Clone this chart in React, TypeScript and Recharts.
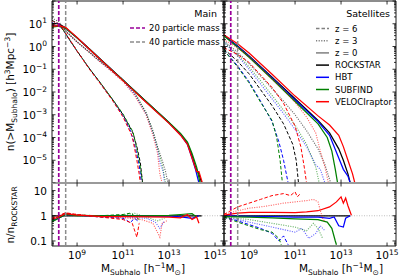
import React from 'react';
import { LineChart, Line, XAxis, YAxis, ReferenceLine, ReferenceArea } from 'recharts';

type Curve = [number, number][]; // [log10 M, log10 value]

// ---------- Main haloes: cumulative n(>M) ----------
const mainZ0Rockstar: Curve = [[7.9, 1.02], [8.2, 1.0], [8.5, 0.82], [9, 0.38], [9.5, -0.08], [10, -0.55], [11, -1.48], [12, -2.42], [13, -3.35], [13.5, -3.85], [13.8, -4.25], [14.0, -4.8], [14.15, -5.3], [14.3, -5.6], [14.42, -6]];
const mainZ0Hbt: Curve = [[7.9, 0.9], [8.2, 0.92], [8.5, 0.8], [9, 0.39], [9.5, -0.08], [10, -0.55], [11, -1.48], [12, -2.43], [13, -3.35], [13.5, -3.87], [13.8, -4.3], [14.0, -4.9], [14.15, -5.4], [14.3, -6]];
const mainZ0Subfind: Curve = [[7.9, 0.85], [8.2, 0.9], [8.5, 0.8], [9, 0.38], [9.5, -0.08], [10, -0.55], [11, -1.48], [12, -2.42], [13, -3.34], [13.5, -3.82], [13.8, -4.2], [14.0, -4.7], [14.2, -5.3], [14.35, -6]];
const mainZ0Velo: Curve = [[7.9, 0.88], [8.2, 0.92], [8.5, 0.84], [9, 0.4], [9.5, -0.09], [10, -0.56], [11, -1.5], [12, -2.45], [13, -3.38], [13.5, -3.9], [13.8, -4.3], [14.0, -4.9], [14.2, -5.5], [14.3, -5.5], [14.45, -6]];

const mainZ3Rockstar: Curve = [[7.9, 1.25], [8.2, 1.1], [8.56, 0.62], [9, 0.2], [9.5, -0.22], [10, -0.65], [10.5, -1.05], [11, -1.47], [11.5, -2.05], [12, -2.9], [12.3, -3.7], [12.5, -4.4], [12.7, -5.0], [12.85, -5.5], [12.95, -6]];
const mainZ3Hbt: Curve = [[7.9, 1.05], [8.2, 1.0], [8.56, 0.62], [9, 0.2], [9.5, -0.22], [10, -0.66], [10.5, -1.06], [11, -1.5], [11.5, -2.1], [12, -2.95], [12.3, -3.8], [12.5, -4.5], [12.6, -5.1], [12.75, -5.5], [12.8, -6]];
const mainZ3Subfind: Curve = [[7.9, 1.0], [8.2, 0.98], [8.56, 0.62], [9, 0.2], [9.5, -0.22], [10, -0.65], [10.5, -1.05], [11, -1.46], [11.5, -2.0], [12, -2.92], [12.3, -3.75], [12.5, -4.45], [12.7, -5.2], [12.85, -6]];
const mainZ3Velo: Curve = [[7.9, 1.1], [8.2, 1.02], [8.56, 0.64], [9, 0.21], [9.5, -0.23], [10, -0.68], [10.5, -1.1], [11, -1.55], [11.5, -2.15], [12, -3.0], [12.3, -3.9], [12.5, -4.7], [12.6, -5.6], [12.7, -6]];

const mainZ6Rockstar: Curve = [[7.9, 1.15], [8.2, 1.0], [8.4, 0.72], [8.7, 0.25], [9, -0.2], [9.56, -1.0], [10, -1.58], [10.56, -2.35], [11, -3.0], [11.43, -3.8], [11.6, -4.4], [11.75, -5.1], [11.85, -6]];
const mainZ6Hbt: Curve = [[7.9, 0.95], [8.2, 0.92], [8.4, 0.72], [8.7, 0.25], [9, -0.2], [9.56, -1.01], [10, -1.6], [10.56, -2.37], [11, -3.05], [11.3, -3.65], [11.5, -4.3], [11.7, -5.2], [11.8, -6]];
const mainZ6Subfind: Curve = [[7.9, 0.9], [8.2, 0.9], [8.4, 0.72], [8.7, 0.26], [9, -0.2], [9.56, -1.0], [10, -1.58], [10.56, -2.34], [11, -2.97], [11.43, -3.75], [11.6, -4.5], [11.75, -5.3], [11.85, -6]];
const mainZ6Velo: Curve = [[7.9, 0.95], [8.2, 0.95], [8.4, 0.75], [8.7, 0.28], [9, -0.2], [9.56, -1.03], [10, -1.62], [10.56, -2.4], [11, -3.1], [11.4, -3.95], [11.6, -5.0], [11.7, -5.6], [11.75, -6]];

// ---------- Main haloes: ratio to ROCKSTAR ----------
const mainRatioRockstar: Curve = [[7.9, 0], [14.42, 0]];
const mainRatioZ0Hbt: Curve = [[7.9, -0.2], [8.2, -0.1], [8.5, 0.05], [9, 0.02], [10, 0], [12, -0.02], [13, 0], [13.6, -0.05], [14, -0.1], [14.3, 0]];
const mainRatioZ0Subfind: Curve = [[7.9, -0.25], [8.2, -0.1], [8.5, 0.05], [9, 0.01], [12, 0], [13, 0.02], [13.5, 0.05], [14, 0.08], [14.2, -0.05]];
const mainRatioZ0Velo: Curve = [[7.9, -0.15], [8.2, -0.05], [8.5, 0.08], [9, 0.03], [10, -0.02], [11, -0.03], [12, -0.04], [13, -0.05], [13.5, -0.08], [13.8, 0.05], [14.0, -0.15], [14.2, -0.05], [14.3, -0.3]];
const mainRatioZ3Hbt: Curve = [[7.9, -0.15], [8.5, 0.08], [9, 0.03], [10, -0.03], [11, -0.05], [12, -0.1], [12.4, -0.25], [12.6, -0.5], [12.8, -0.2]];
const mainRatioZ3Subfind: Curve = [[7.9, -0.15], [8.5, 0.08], [9, 0.03], [10, 0], [11, 0.02], [11.5, 0.1], [12, -0.05], [12.5, -0.2], [12.8, -0.1]];
const mainRatioZ3Velo: Curve = [[7.9, -0.1], [8.5, 0.1], [9, 0.05], [10, -0.05], [11, -0.08], [11.8, -0.15], [12.3, -0.3], [12.6, -0.85], [12.7, -0.3], [12.9, -0.2]];
const mainRatioZ6Hbt: Curve = [[7.9, -0.15], [8.5, 0.1], [9, 0.03], [10, -0.05], [11, -0.1], [11.2, -0.2], [11.3, -0.28], [11.5, -0.1], [11.7, -0.25]];
const mainRatioZ6Subfind: Curve = [[7.9, -0.2], [8.5, 0.08], [9, 0.03], [10, 0], [11, 0.05], [11.3, 0.1], [11.5, 0], [11.7, -0.15]];
const mainRatioZ6Velo: Curve = [[7.9, -0.1], [8.5, 0.12], [9, 0.05], [10, -0.05], [10.5, -0.1], [11, -0.15], [11.4, -0.3], [11.6, -0.85], [11.7, -0.3]];

// ---------- Satellites: cumulative n(>M) ----------
const satZ0Rockstar: Curve = [[7.9, 0.5], [8.5, 0.02], [9, -0.42], [10, -1.35], [11, -2.3], [12, -3.25], [12.5, -3.8], [12.9, -4.5], [13.1, -5.0], [13.3, -5.6], [13.4, -6]];
const satZ0Hbt: Curve = [[7.9, 0.5], [8.5, 0.0], [9, -0.44], [10, -1.38], [11, -2.35], [12, -3.3], [12.5, -3.9], [12.9, -4.9], [13.1, -5.4], [13.3, -5.7], [13.4, -6]];
const satZ0Subfind: Curve = [[7.9, 0.47], [8.5, -0.03], [9, -0.47], [10, -1.43], [11, -2.42], [12, -3.4], [12.4, -4.0], [12.6, -4.6], [12.75, -5.4], [12.85, -6]];
const satZ0Velo: Curve = [[7.9, 0.52], [8.5, 0.12], [9, -0.29], [10, -1.22], [11, -2.18], [12, -3.05], [12.5, -3.45], [12.9, -3.9], [13.1, -4.4], [13.3, -5.0], [13.5, -5.6], [13.6, -6]];

const satZ3Rockstar: Curve = [[7.9, 0.25], [8.5, -0.25], [9, -0.75], [9.5, -1.3], [10, -1.85], [10.5, -2.4], [11, -3.0], [11.5, -3.7], [12, -4.5], [12.3, -5.2], [12.55, -6]];
const satZ3Hbt: Curve = [[7.9, 0.2], [8.5, -0.4], [9, -1.0], [9.5, -1.65], [10, -2.3], [10.5, -2.95], [11, -3.65], [11.5, -4.4], [11.9, -5.2], [12.1, -5.4], [12.3, -6]];
const satZ3Subfind: Curve = [[7.9, 0.2], [8.5, -0.35], [9, -0.9], [9.5, -1.5], [10, -2.15], [10.5, -2.8], [11, -3.45], [11.5, -4.3], [11.9, -5.3], [12.05, -6]];
const satZ3Velo: Curve = [[7.9, 0.3], [8.5, -0.05], [9, -0.45], [9.5, -0.95], [10, -1.43], [10.5, -1.9], [11, -2.45], [11.5, -3.1], [11.9, -3.8], [12.1, -4.6], [12.3, -5.3], [12.45, -6]];

const satZ6Rockstar: Curve = [[7.9, -0.1], [8.5, -0.65], [9, -1.2], [9.5, -1.9], [10, -2.6], [10.5, -3.4], [10.9, -4.3], [11.05, -5.0], [11.15, -6]];
const satZ6Hbt: Curve = [[7.9, -0.15], [8.5, -0.85], [9, -1.55], [9.5, -2.4], [10, -3.3], [10.3, -4.2], [10.5, -5.0], [10.7, -6]];
const satZ6Subfind: Curve = [[7.9, -0.15], [8.5, -0.9], [9, -1.6], [9.5, -2.45], [10, -3.25], [10.2, -4.0], [10.35, -5], [10.45, -6]];
const satZ6Velo: Curve = [[7.9, -0.05], [8.5, -0.35], [9, -0.7], [9.5, -1.25], [10, -1.8], [10.5, -2.5], [11, -3.5], [11.25, -4.4], [11.4, -5.3], [11.5, -6]];

// ---------- Satellites: ratio to ROCKSTAR ----------
const satRatioRockstar: Curve = [[7.9, 0], [13.4, 0]];
const satRatioZ0Hbt: Curve = [[7.9, 0], [9, -0.02], [10, -0.03], [11, -0.05], [12, -0.05], [12.5, -0.1], [12.7, -0.05], [12.9, -0.4], [13.1, -0.45], [13.2, -0.1], [13.4, 0]];
const satRatioZ0Subfind: Curve = [[7.9, -0.03], [9, -0.05], [10, -0.08], [11, -0.12], [12, -0.15], [12.4, -0.25], [12.6, -0.5], [12.75, -1.0], [12.8, -1.15]];
const satRatioZ0Velo: Curve = [[7.9, 0.02], [8.5, 0.1], [9, 0.13], [10, 0.13], [11, 0.12], [11.5, 0.15], [12, 0.2], [12.5, 0.35], [12.8, 0.55], [13.0, 0.75], [13.1, 0.5], [13.2, 0.7], [13.3, 0.4], [13.45, 0.02]];
const satRatioZ3Hbt: Curve = [[7.9, -0.05], [8.5, -0.15], [9, -0.25], [9.5, -0.35], [10, -0.45], [10.5, -0.55], [11, -0.65], [11.3, -0.5], [11.6, -0.9], [11.9, -0.7], [12.1, -0.4], [12.3, -0.6]];
const satRatioZ3Subfind: Curve = [[7.9, -0.05], [9, -0.15], [10, -0.3], [11, -0.45], [11.5, -0.6], [11.8, -0.3], [12.0, -0.5], [12.2, -0.9]];
const satRatioZ3Velo: Curve = [[7.9, 0.05], [8.5, 0.2], [9, 0.3], [9.5, 0.35], [10, 0.42], [10.5, 0.5], [11, 0.55], [11.5, 0.6], [11.8, 0.65], [12.0, 0.55], [12.1, 0.2], [12.2, -0.1], [12.3, -0.25]];
const satRatioZ6Hbt: Curve = [[7.9, -0.05], [8.5, -0.2], [9, -0.35], [9.5, -0.5], [10, -0.7], [10.3, -1.0], [10.5, -0.8], [10.7, -1.15]];
const satRatioZ6Subfind: Curve = [[7.9, -0.05], [8.5, -0.25], [9, -0.4], [9.5, -0.55], [10, -0.65], [10.3, -0.9], [10.4, -1.15]];
const satRatioZ6Velo: Curve = [[7.9, 0.05], [8.5, 0.35], [9, 0.5], [9.5, 0.65], [10, 0.8], [10.5, 0.88], [10.8, 0.8], [11.0, 0.95], [11.1, 0.75], [11.2, 0.85]];

// particle mass limits (h^-1 Msun)
const M20 = 1.6e8;
const M40 = 3.2e8;

const xTicks = [1e9, 1e11, 1e13, 1e15];
const nMajor = [1e-6, 1e-5, 1e-4, 1e-3, 1e-2, 1e-1, 1e0, 1e1, 1e2];
const rMajor = [0.01, 0.1, 1, 10];
const nLabels = [1e-5, 1e-4, 1e-3, 1e-2, 1e-1, 1e0, 1e1];
const rLabels = ['0.1', '1', '10'];

const X_DOMAIN: [number, number] = [10 ** 7.91, 10 ** 15.39];
const N_DOMAIN: [number, number] = [1e-6, 1e2];
const R_DOMAIN: [number, number] = [10 ** -1.2, 10 ** 1.3];

const withMinors = (majors: number[], dom: [number, number]) => {
  const out: number[] = [];
  majors.forEach((m) => [1, 2, 3, 4, 5, 6, 7, 8, 9].forEach((k) => {
    const v = m * k;
    if (v >= dom[0] * 0.9999 && v <= dom[1] * 1.0001) out.push(v);
  }));
  return out;
};
const nTicks = withMinors(nMajor, N_DOMAIN);
const rTicks = withMinors(rMajor, R_DOMAIN);

const FONT = 'DejaVu Sans, Verdana, sans-serif';
const C = { rockstar: '#000000', hbt: '#0000ff', subfind: '#008000', velo: '#ff0000' };
const ZSTYLE: Record<number, { dash?: string; opacity: number; width: number }> = {
  6: { dash: '3.5 2', opacity: 1, width: 1.0 },
  3: { dash: '1.1 1.3', opacity: 0.6, width: 1.1 },
  0: { opacity: 1, width: 1.25 },
};

const toPoints = (c: Curve) => c.map(([lm, lv]) => ({ m: 10 ** lm, v: 10 ** lv }));

type S = { c: Curve; col: string; z: number };
const mainTop: S[] = [
  { c: mainZ6Rockstar, col: C.rockstar, z: 6 }, { c: mainZ3Rockstar, col: C.rockstar, z: 3 }, { c: mainZ0Rockstar, col: C.rockstar, z: 0 },
  { c: mainZ6Hbt, col: C.hbt, z: 6 }, { c: mainZ3Hbt, col: C.hbt, z: 3 }, { c: mainZ0Hbt, col: C.hbt, z: 0 },
  { c: mainZ6Subfind, col: C.subfind, z: 6 }, { c: mainZ3Subfind, col: C.subfind, z: 3 }, { c: mainZ0Subfind, col: C.subfind, z: 0 },
  { c: mainZ6Velo, col: C.velo, z: 6 }, { c: mainZ3Velo, col: C.velo, z: 3 }, { c: mainZ0Velo, col: C.velo, z: 0 },
];
const mainRatio: S[] = [
  { c: mainRatioRockstar, col: C.rockstar, z: 0 },
  { c: mainRatioZ6Hbt, col: C.hbt, z: 6 }, { c: mainRatioZ3Hbt, col: C.hbt, z: 3 }, { c: mainRatioZ0Hbt, col: C.hbt, z: 0 },
  { c: mainRatioZ6Subfind, col: C.subfind, z: 6 }, { c: mainRatioZ3Subfind, col: C.subfind, z: 3 }, { c: mainRatioZ0Subfind, col: C.subfind, z: 0 },
  { c: mainRatioZ6Velo, col: C.velo, z: 6 }, { c: mainRatioZ3Velo, col: C.velo, z: 3 }, { c: mainRatioZ0Velo, col: C.velo, z: 0 },
];
const satTop: S[] = [
  { c: satZ6Rockstar, col: C.rockstar, z: 6 }, { c: satZ3Rockstar, col: C.rockstar, z: 3 }, { c: satZ0Rockstar, col: C.rockstar, z: 0 },
  { c: satZ6Hbt, col: C.hbt, z: 6 }, { c: satZ3Hbt, col: C.hbt, z: 3 }, { c: satZ0Hbt, col: C.hbt, z: 0 },
  { c: satZ6Subfind, col: C.subfind, z: 6 }, { c: satZ3Subfind, col: C.subfind, z: 3 }, { c: satZ0Subfind, col: C.subfind, z: 0 },
  { c: satZ6Velo, col: C.velo, z: 6 }, { c: satZ3Velo, col: C.velo, z: 3 }, { c: satZ0Velo, col: C.velo, z: 0 },
];
const satRatio: S[] = [
  { c: satRatioRockstar, col: C.rockstar, z: 0 },
  { c: satRatioZ6Hbt, col: C.hbt, z: 6 }, { c: satRatioZ3Hbt, col: C.hbt, z: 3 }, { c: satRatioZ0Hbt, col: C.hbt, z: 0 },
  { c: satRatioZ6Subfind, col: C.subfind, z: 6 }, { c: satRatioZ3Subfind, col: C.subfind, z: 3 }, { c: satRatioZ0Subfind, col: C.subfind, z: 0 },
  { c: satRatioZ6Velo, col: C.velo, z: 6 }, { c: satRatioZ3Velo, col: C.velo, z: 3 }, { c: satRatioZ0Velo, col: C.velo, z: 0 },
];

type Box = { l: number; r: number; t: number; b: number };

const isMajor = (v: number) => Math.abs(Math.log10(v) - Math.round(Math.log10(v))) < 1e-6;

// inward ticks on both vertical edges, matplotlib style
const YTick = (props: any) => {
  const { y, payload, box, labels, ratio } = props;
  const v = payload.value;
  const major = isMajor(v);
  const len = major ? 3.5 : 2;
  const e = Math.round(Math.log10(v));
  let label: React.ReactNode = null;
  if (labels && major) {
    if (ratio) {
      const s = v >= 1 ? String(Math.round(v)) : String(Number(v.toFixed(2)));
      if (rLabels.includes(s)) {
        label = <text x={box.l - 5} y={y + 4} textAnchor="end" fontSize={10.5} fontFamily={FONT} fill="#000">{s}</text>;
      }
    } else if (nLabels.some((n) => Math.abs(Math.log10(n) - e) < 1e-6)) {
      label = (
        <text x={box.l - 5} y={y + 4} textAnchor="end" fontSize={10.5} fontFamily={FONT} fill="#000">
          10<tspan dy={-4.5} fontSize={7.5}>{e < 0 ? `\u2212${-e}` : e}</tspan>
        </text>
      );
    }
  }
  return (
    <g>
      <line x1={box.l} x2={box.l + len} y1={y} y2={y} stroke="#000" strokeWidth={0.8} />
      <line x1={box.r - len} x2={box.r} y1={y} y2={y} stroke="#000" strokeWidth={0.8} />
      {label}
    </g>
  );
};

const XTick = (props: any) => {
  const { x, payload, box, labels } = props;
  const e = Math.round(Math.log10(payload.value));
  return (
    <g>
      <line x1={x} x2={x} y1={box.t} y2={box.t + 3.5} stroke="#000" strokeWidth={0.8} />
      <line x1={x} x2={x} y1={box.b - 3.5} y2={box.b} stroke="#000" strokeWidth={0.8} />
      {labels && (
        <text x={x} y={box.b + 13} textAnchor="middle" fontSize={10.5} fontFamily={FONT} fill="#000">
          10<tspan dy={-4.5} fontSize={7.5}>{e}</tspan>
        </text>
      )}
    </g>
  );
};

function Panel({ w, h, box, ratio, series, yLabels, xLabels }: {
  w: number; h: number; box: Box; ratio: boolean; series: S[]; yLabels: boolean; xLabels: boolean;
}) {
  const yDomain = ratio ? R_DOMAIN : N_DOMAIN;
  return (
    <LineChart width={w} height={h} margin={{ top: box.t, right: w - box.r, bottom: 0, left: 0 }}>
      <XAxis
        type="number"
        dataKey="m"
        scale="log"
        domain={X_DOMAIN}
        allowDataOverflow
        ticks={xTicks}
        interval={0}
        axisLine={false}
        tickLine={false}
        height={h - box.b}
        tick={<XTick box={box} labels={xLabels} />}
      />
      <YAxis
        type="number"
        scale="log"
        domain={yDomain}
        allowDataOverflow
        ticks={ratio ? rTicks : nTicks}
        interval={0}
        axisLine={false}
        tickLine={false}
        width={box.l}
        tick={<YTick box={box} labels={yLabels} ratio={ratio} />}
      />
      {ratio && <ReferenceLine y={1} stroke="#b0b0b0" strokeDasharray="1 1.5" strokeWidth={0.8} />}
      {series.map((s, i) => {
        const st = ZSTYLE[s.z];
        return (
          <Line
            key={i}
            data={toPoints(s.c)}
            dataKey="v"
            type="linear"
            stroke={s.col}
            strokeWidth={st.width}
            strokeDasharray={st.dash}
            strokeOpacity={st.opacity}
            dot={false}
            activeDot={false}
            isAnimationActive={false}
          />
        );
      })}
      <ReferenceLine x={M20} stroke="#990099" strokeDasharray="4 2" strokeWidth={1.7} />
      <ReferenceLine x={M40} stroke="#8c8c8c" strokeDasharray="4 2" strokeWidth={1.5} />
      <ReferenceArea x1={X_DOMAIN[0]} x2={X_DOMAIN[1]} y1={yDomain[0]} y2={yDomain[1]} fill="none" stroke="#000" strokeWidth={0.9} ifOverflow="visible" />
      <ReferenceLine y={ratio ? yDomain[1] : yDomain[0]} stroke="#9a9a9a" strokeWidth={2.2} ifOverflow="visible" />
    </LineChart>
  );
}

const legendSat = [
  { label: 'z = 6', col: '#808080', dash: '3.5 2' },
  { label: 'z = 3', col: '#808080', dash: '1.2 1.4' },
  { label: 'z = 0', col: '#808080', dash: undefined },
  { label: 'ROCKSTAR', col: C.rockstar, dash: undefined },
  { label: 'HBT', col: C.hbt, dash: undefined },
  { label: 'SUBFIND', col: C.subfind, dash: undefined },
  { label: 'VELOCIraptor', col: C.velo, dash: undefined },
];

export default function App() {
  const txt = { fontFamily: FONT, fill: '#000' } as const;
  return (
    <div style={{ position: 'fixed', left: 0, top: 0, width: 400, height: 280, background: '#fff', overflow: 'hidden' }}>
      <div style={{ position: 'absolute', left: 0, top: 0 }}>
        <Panel w={240} h={184} box={{ l: 52, r: 224, t: 1, b: 183 }} ratio={false} series={mainTop} yLabels xLabels={false} />
      </div>
      <div style={{ position: 'absolute', left: 0, top: 183 }}>
        <Panel w={240} h={97} box={{ l: 52, r: 224, t: 0, b: 63 }} ratio series={mainRatio} yLabels xLabels />
      </div>
      <div style={{ position: 'absolute', left: 223, top: 0 }}>
        <Panel w={177} h={184} box={{ l: 1, r: 173, t: 1, b: 183 }} ratio={false} series={satTop} yLabels={false} xLabels={false} />
      </div>
      <div style={{ position: 'absolute', left: 223, top: 183 }}>
        <Panel w={177} h={97} box={{ l: 1, r: 173, t: 0, b: 63 }} ratio series={satRatio} yLabels={false} xLabels />
      </div>

      <svg width={400} height={280} style={{ position: 'absolute', left: 0, top: 0, pointerEvents: 'none' }}>
        {/* axis titles */}
        <text transform="translate(14,92) rotate(-90)" textAnchor="middle" fontSize={10.5} {...txt}>
          n(&gt;M<tspan dy={2.5} fontSize={7.5}>Subhalo</tspan><tspan dy={-2.5}>) [h</tspan>
          <tspan dy={-4.5} fontSize={7.5}>3</tspan><tspan dy={4.5}>Mpc</tspan>
          <tspan dy={-4.5} fontSize={7.5}>{'\u22123'}</tspan><tspan dy={4.5}>]</tspan>
        </text>
        <text transform="translate(14,215) rotate(-90)" textAnchor="middle" fontSize={10.5} {...txt}>
          n/n<tspan dy={2.5} fontSize={7.5}>ROCKSTAR</tspan>
        </text>
        {[143, 341].map((cx) => (
          <text key={cx} x={cx} y={272} textAnchor="middle" fontSize={10.5} {...txt}>
            M<tspan dy={2.5} fontSize={7.5}>Subhalo</tspan><tspan dy={-2.5}> [h</tspan>
            <tspan dy={-4.5} fontSize={7.5}>{'\u22121'}</tspan><tspan dy={4.5}>M</tspan>
            <tspan dy={2.5} fontSize={7.5}>{'\u2299'}</tspan><tspan dy={-2.5}>]</tspan>
          </text>
        ))}

        {/* main legend */}
        <text x={217} y={17} textAnchor="end" fontSize={9.5} {...txt}>Main</text>
        <line x1={130} x2={145} y1={28} y2={28} stroke="#990099" strokeWidth={1.7} strokeDasharray="4 2" />
        <text x={149} y={31} fontSize={8.5} {...txt}>20 particle mass</text>
        <line x1={130} x2={145} y1={42} y2={42} stroke="#8c8c8c" strokeWidth={1.5} strokeDasharray="4 2" />
        <text x={149} y={45} fontSize={8.5} {...txt}>40 particle mass</text>

        {/* satellites legend */}
        <text x={390} y={17} textAnchor="end" fontSize={9.5} {...txt}>Satellites</text>
        {legendSat.map((it, i) => {
          const y = 28.5 + i * 12.2;
          return (
            <g key={it.label}>
              <line x1={316} x2={329} y1={y} y2={y} stroke={it.col} strokeWidth={1.5} strokeDasharray={it.dash} />
              <text x={335} y={y + 3} fontSize={8.5} {...txt}>{it.label}</text>
            </g>
          );
        })}
      </svg>
    </div>
  );
}
